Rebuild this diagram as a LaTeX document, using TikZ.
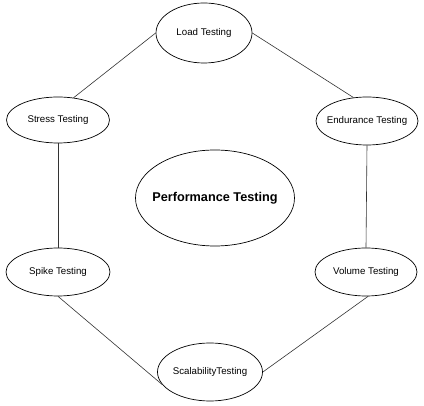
\documentclass[tikz,border=0pt]{standalone}
\usepackage{fontspec}
\setmainfont{Liberation Sans}
\usetikzlibrary{shapes.geometric}
\begin{document}
\begin{tikzpicture}[x=1pt,y=-1pt,
  oval/.style={ellipse,draw=black,line width=0.7pt,inner xsep=-15pt,inner ysep=0pt,font=\fontsize{9.7}{11}\selectfont},
  link/.style={draw=black!80,line width=0.6pt}]
\useasboundingbox[fill=white] (0,0) rectangle (424,406);
\node[oval,minimum width=96,minimum height=60] (load) at (204,33) {Load Testing};
\node[oval,minimum width=103,minimum height=46] (stress) at (58,120) {Stress Testing};
\node[oval,minimum width=102,minimum height=48] (endur) at (367,121) {Endurance Testing};
\node[oval,minimum width=159,minimum height=96,font=\fontsize{12.7}{14}\selectfont\bfseries] (perf) at (215,198) {Performance Testing};
\node[oval,minimum width=104,minimum height=48] (spike) at (58,272) {Spike Testing};
\node[oval,minimum width=102,minimum height=48] (volume) at (366,272) {Volume Testing};
\node[oval,minimum width=105,minimum height=58] (scal) at (210,372) {ScalabilityTesting};
\draw[link] (load.west) -- (stress.55);
\draw[link] (load.east) -- (endur.120);
\draw[link] (stress.south) -- (spike.north);
\draw[link] (endur.south) -- (volume.north);
\draw[link] (spike.south) -- (scal.195);
\draw[link] (volume.-85) -- (scal.east);
\end{tikzpicture}
\end{document}
